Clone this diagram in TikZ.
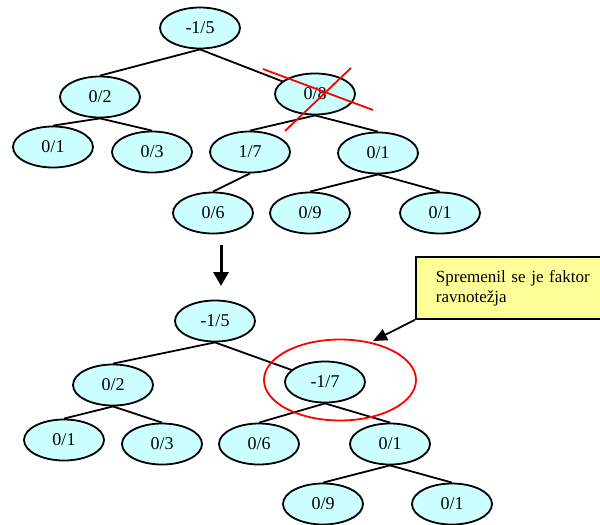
\documentclass[tikz,border=0pt]{standalone}
\usepackage{fontspec}
\setmainfont{Liberation Serif}
\usetikzlibrary{shapes.geometric, arrows.meta, backgrounds}

\definecolor{leafcyan}{HTML}{CCFFFF}
\definecolor{noteyellow}{HTML}{FFFF99}

\begin{document}
\begin{tikzpicture}[x=1pt, y=-1pt,
		knot/.style={ellipse, draw, line width=1.8pt, fill=leafcyan, minimum width=80pt, minimum height=41pt, inner sep=0pt, font=\fontsize{18}{21}\selectfont},
		link/.style={line width=1.8pt},
		mark red/.style={draw=red, line width=1.8pt}]
		\useasboundingbox (0,0) rectangle (600,525);

		% Tree before the rotation
		\node[knot] (a) at (200,28) {-1/5};
		\node[knot] (b) at (100,97) {0/2};
		\node[knot] (c) at (315,94) {0/8};
		\node[knot] (d) at (53,147) {0/1};
		\node[knot] (e) at (152,152) {0/3};
		\node[knot] (f) at (250,152) {1/7};
		\node[knot] (g) at (378,153) {0/1};
		\node[knot] (h) at (213,213) {0/6};
		\node[knot] (i) at (310,213) {0/9};
		\node[knot] (j) at (440,213) {0/1};

		% Tree after the rotation
		\node[knot] (ra) at (215,321) {-1/5};
		\node[knot] (rb) at (113,385) {0/2};
		\node[knot] (rc) at (325,382) {-1/7};
		\node[knot] (rd) at (64,440) {0/1};
		\node[knot] (re) at (162,444) {0/3};
		\node[knot] (rf) at (259,444) {0/6};
		\node[knot] (rg) at (390,444) {0/1};
		\node[knot] (rh) at (323,504) {0/9};
		\node[knot] (ri) at (452,504) {0/1};

		\begin{scope}[on background layer]
			\draw[link] (a.south) -- (b.north);
			\draw[link] (a.south) -- (c.center);
			\draw[link] (b.south) -- (d.north);
			\draw[link] (b.south) -- (e.north);
			\draw[link] (c.south) -- (f.north);
			\draw[link] (c.south) -- (g.north);
			\draw[link] (f.south) -- (h.north);
			\draw[link] (g.south) -- (i.north);
			\draw[link] (g.south) -- (j.north);

			\draw[link] (ra.south) -- (rb.north);
			\draw[link] (ra.south) -- (rc.center);
			\draw[link] (rb.south) -- (rd.north);
			\draw[link] (rb.south) -- (re.north);
			\draw[link] (rc.south) -- (rf.north);
			\draw[link] (rc.south) -- (rg.north);
			\draw[link] (rg.south) -- (rh.north);
			\draw[link] (rg.south) -- (ri.north);
		\end{scope}

		% Cross over the removed node
		\draw[mark red] (263,69) -- (373,110);
		\draw[mark red] (351,68) -- (285,131);

		% Step arrow between the two trees
		\coordinate (stepfrom) at (221,245);
		\coordinate (stepto) at (221,286);
		\draw[line width=3pt, -{Triangle[length=14pt, width=15pt]}] (stepfrom) -- (stepto);

		% Ring round the changed node
		\node[ellipse, mark red, minimum width=152pt, minimum height=81pt] (ring) at (340,380) {};

		% Note with its pointer
		\node[draw, line width=1.8pt, fill=noteyellow, anchor=north west, minimum width=200pt, minimum height=62pt,
			text width=172pt, inner xsep=20pt, align=left, font=\fontsize{17}{20}\selectfont] (note) at (415,256)
			{Spremenil se je faktor\\ravnotežja};
		\coordinate (notetip) at (373,341);
		\draw[line width=1.8pt, -{Triangle[length=14pt, width=12pt]}] (note.south west) -- (notetip);

	\end{tikzpicture}
\end{document}
